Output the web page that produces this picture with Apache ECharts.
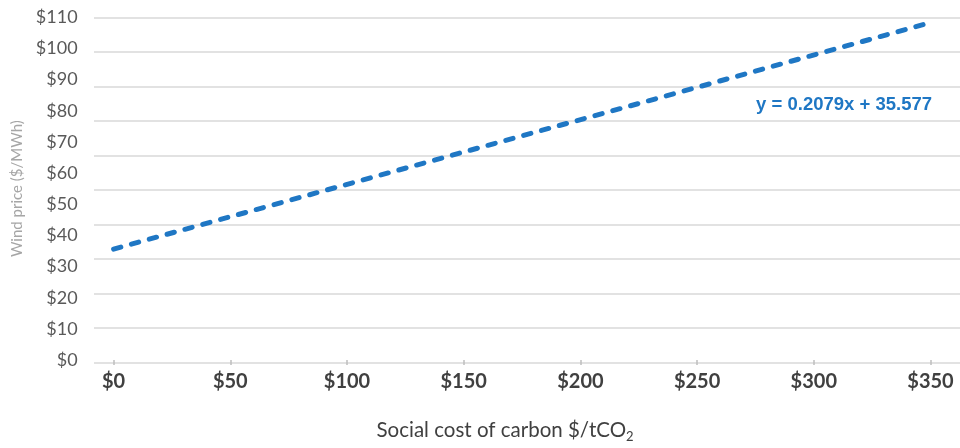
<!DOCTYPE html>
<html>
<head>
<meta charset="utf-8">
<script src="https://cdn.jsdelivr.net/npm/echarts@6/dist/echarts.min.js"></script>
<style>
html,body{margin:0;padding:0;background:#fff;}
#c{width:960px;height:448px;}
</style>
</head>
<body>
<div id="c"></div>
<script>
// Data
const carbonCost = [0, 350];            // Social cost of carbon $/tCO2
const windPrice = [35.6, 108.3];        // Wind price $/MWh (trendline)
const xTicks = [0, 50, 100, 150, 200, 250, 300, 350];
const yTicks = [0, 10, 20, 30, 40, 50, 60, 70, 80, 90, 100, 110];
const equationText = 'y = 0.2079x + 35.577';

const chart = echarts.init(document.getElementById('c'), null, {renderer: 'canvas'});
const font = 'Lato, "Open Sans", "Noto Sans", sans-serif';

const option = {
  backgroundColor: '#ffffff',
  animation: false,
  grid: [
    {left: 113.6, right: 29.5, top: 17.3, bottom: 85.3},
    {left: 94, right: 0, top: 17.3, bottom: 85.3}
  ],
  xAxis: [
    {
      type: 'value', gridIndex: 0,
      min: xTicks[0], max: xTicks[xTicks.length - 1], interval: 50,
      axisLine: {show: false},
      axisTick: {show: true, length: 5, lineStyle: {color: '#bfbfbf', width: 1.5}},
      splitLine: {show: false},
      axisLabel: {
        margin: 12, color: '#404040', fontSize: 20, fontWeight: 'bold', fontFamily: font,
        formatter: v => '$' + v
      },
      name: 'Social cost of carbon $/tCO{sub|2}',
      nameLocation: 'middle',
      nameGap: 58,
      nameTextStyle: {
        color: '#404040', fontSize: 20.5, fontFamily: font, padding: [0, 34, 0, 0],
        rich: {sub: {fontSize: 13, color: '#404040', fontFamily: font, padding: [12, 0, 0, 0]}}
      }
    },
    {
      type: 'value', gridIndex: 1, min: 0, max: 1, show: false
    }
  ],
  yAxis: [
    {
      type: 'value', gridIndex: 0,
      min: yTicks[0], max: yTicks[yTicks.length - 1], interval: 10,
      axisLine: {show: false}, axisTick: {show: false},
      splitLine: {show: false},
      axisLabel: {
        margin: 36, color: '#595959', fontSize: 18, fontFamily: font,
        formatter: v => '$' + v
      },
      name: 'Wind price ($/MWh)',
      nameLocation: 'middle',
      nameGap: 88,
      nameTextStyle: {color: '#a6a6a6', fontSize: 15, fontFamily: font}
    },
    {
      type: 'value', gridIndex: 1, min: 0, max: 10, interval: 1,
      axisLine: {show: false}, axisTick: {show: false}, axisLabel: {show: false},
      splitLine: {show: true, lineStyle: {color: '#d9d9d9', width: 1.5}}
    }
  ],
  series: [
    {
      type: 'line',
      xAxisIndex: 0, yAxisIndex: 0,
      data: carbonCost.map((x, i) => [x, windPrice[i]]),
      symbol: 'none',
      lineStyle: {color: '#1f77c4', width: 5, type: [7.5, 11], cap: 'round'},
      z: 5
    }
  ],
  graphic: [
    {
      type: 'text',
      right: 28, top: 95,
      style: {
        text: equationText,
        fill: '#1f77c4',
        font: 'bold 18.5px "Liberation Sans", Arial, sans-serif'
      }
    }
  ]
};
chart.setOption(option);
</script>
</body>
</html>
